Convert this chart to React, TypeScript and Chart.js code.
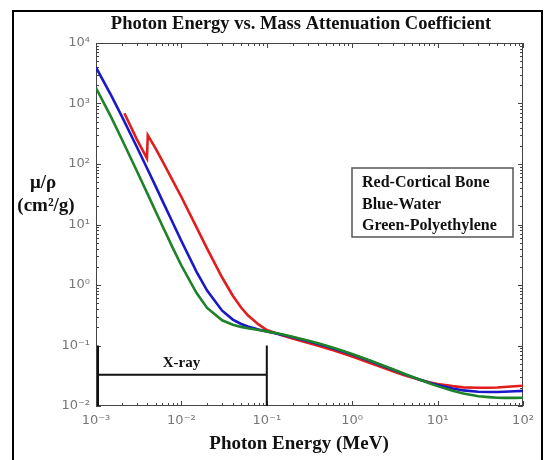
import React, { useEffect, useRef } from "react";
import { Chart, registerables } from "chart.js";
Chart.register(...registerables);

// ---------- data (MeV, cm^2/g) ----------
const waterEnergy = [1e-3, 1.5e-3, 2e-3, 3e-3, 4e-3, 5e-3, 6e-3, 8e-3, 0.01, 0.015, 0.02, 0.03, 0.04, 0.05, 0.06, 0.08, 0.1, 0.15, 0.2, 0.3, 0.4, 0.5, 0.6, 0.8, 1, 1.25, 1.5, 2, 3, 4, 5, 6, 8, 10, 15, 20, 30, 40, 50, 60, 80, 100];
const waterMu = [3950, 1376, 617, 193, 82.8, 42.6, 24.6, 10.4, 5.33, 1.67, 0.81, 0.376, 0.268, 0.227, 0.206, 0.184, 0.171, 0.1505, 0.137, 0.1186, 0.1061, 0.0969, 0.0896, 0.0787, 0.0707, 0.0632, 0.0575, 0.0494, 0.0397, 0.034, 0.0303, 0.0277, 0.0243, 0.0222, 0.0194, 0.0181, 0.0172, 0.017, 0.017, 0.0172, 0.0175, 0.0178];

const polyEnergy = [1e-3, 1.5e-3, 2e-3, 3e-3, 4e-3, 5e-3, 6e-3, 8e-3, 0.01, 0.015, 0.02, 0.03, 0.04, 0.05, 0.06, 0.08, 0.1, 0.15, 0.2, 0.3, 0.4, 0.5, 0.6, 0.8, 1, 1.25, 1.5, 2, 3, 4, 5, 6, 8, 10, 15, 20, 30, 40, 50, 60, 80, 100];
const polyMu = [1800, 600, 259, 77.4, 32.4, 16.4, 9.43, 4.0, 2.1, 0.744, 0.418, 0.261, 0.221, 0.203, 0.193, 0.181, 0.171, 0.153, 0.14, 0.121, 0.109, 0.0992, 0.0917, 0.0805, 0.0724, 0.0647, 0.0589, 0.0505, 0.0405, 0.0345, 0.0305, 0.0277, 0.0238, 0.0213, 0.0178, 0.0161, 0.0145, 0.014, 0.0137, 0.0136, 0.0136, 0.0137];

const boneEnergy = [2.15e-3, 3e-3, 3.95e-3, 4.04e-3, 5e-3, 6e-3, 8e-3, 0.01, 0.015, 0.02, 0.03, 0.04, 0.05, 0.06, 0.08, 0.1, 0.15, 0.2, 0.3, 0.4, 0.5, 0.6, 0.8, 1, 1.25, 1.5, 2, 3, 4, 5, 6, 8, 10, 15, 20, 30, 40, 50, 60, 80, 100];
const boneMu = [690, 258, 124, 300, 180, 112, 51.7, 28.5, 9.03, 4.0, 1.33, 0.666, 0.424, 0.315, 0.223, 0.18, 0.148, 0.131, 0.111, 0.0991, 0.0902, 0.0833, 0.0731, 0.0657, 0.0587, 0.0535, 0.0461, 0.0375, 0.0326, 0.0295, 0.0273, 0.0247, 0.0231, 0.0213, 0.0203, 0.02, 0.02, 0.0202, 0.0206, 0.0212, 0.0216];

const xTickValues = [1e-3, 1e-2, 1e-1, 1, 10, 100];
const xTickLabels = ["10⁻³", "10⁻²", "10⁻¹", "10⁰", "10¹", "10²"];
const yTickValues = [1e-2, 1e-1, 1, 10, 100, 1000, 10000];
const yTickLabels = ["10⁻²", "10⁻¹", "10⁰", "10¹", "10²", "10³", "10⁴"];

const chartTitle = "Photon Energy vs. Mass Attenuation Coefficient";
const xAxisTitle = "Photon Energy (MeV)";
const yAxisTitle = ["μ/ρ", "(cm²/g)"];
const legendLines = ["Red-Cortical Bone", "Blue-Water", "Green-Polyethylene"];
const xrayLabel = "X-ray";
const xrayEnergyRange = [1e-3, 1e-1];
const xrayMuRange = [1e-2, 1e-1];
const xrayBarMu = 0.033;

const SERIF = "'Liberation Serif', 'Times New Roman', serif";
const SANS = "'DejaVu Sans', 'Liberation Sans', sans-serif";

const toPoints = (xs: number[], ys: number[]) => xs.map((x, i) => ({ x, y: ys[i] }));

const labelFor = (vals: number[], labels: string[]) => (v: any) => {
  const i = vals.findIndex((t) => Math.abs(Math.log10(t) - Math.log10(Number(v))) < 1e-6);
  return i >= 0 ? labels[i] : "";
};

const decorPlugin = {
  id: "decor",
  beforeDatasetsDraw(chart: any) {
    const { ctx, chartArea: a } = chart;
    const xs = chart.scales.x;
    const ys = chart.scales.y;
    ctx.save();
    ctx.strokeStyle = "#444";
    ctx.lineWidth = 1;
    ctx.strokeRect(a.left + 0.5, a.top + 0.5, a.right - a.left - 1, a.bottom - a.top - 1);
    ctx.beginPath();
    for (let d = -3; d <= 2; d++) {
      for (let m = 1; m <= 9; m++) {
        const v = m * Math.pow(10, d);
        if (v < xs.min * 0.999 || v > xs.max * 1.001) continue;
        const px = Math.round(xs.getPixelForValue(v)) + 0.5;
        const len = m === 1 ? 5 : 3;
        ctx.moveTo(px, a.bottom);
        ctx.lineTo(px, a.bottom - len);
        ctx.moveTo(px, a.top);
        ctx.lineTo(px, a.top + len);
      }
    }
    for (let d = -2; d <= 4; d++) {
      for (let m = 1; m <= 9; m++) {
        const v = m * Math.pow(10, d);
        if (v < ys.min * 0.999 || v > ys.max * 1.001) continue;
        const py = Math.round(ys.getPixelForValue(v)) + 0.5;
        const len = m === 1 ? 5 : 3;
        ctx.moveTo(a.left, py);
        ctx.lineTo(a.left + len, py);
        ctx.moveTo(a.right, py);
        ctx.lineTo(a.right - len, py);
      }
    }
    ctx.stroke();
    ctx.restore();
  },
  afterDraw(chart: any) {
    const { ctx } = chart;
    const xs = chart.scales.x;
    const ys = chart.scales.y;
    ctx.save();
    // outer frame
    ctx.strokeStyle = "#000";
    ctx.lineWidth = 2;
    ctx.strokeRect(13, 11, 529, 470);

    // title
    ctx.fillStyle = "#111";
    ctx.textAlign = "center";
    ctx.textBaseline = "middle";
    ctx.font = `bold 18.5px ${SERIF}`;
    ctx.fillText(chartTitle, 301, 24);

    // x axis title
    ctx.font = `bold 19px ${SERIF}`;
    ctx.fillText(xAxisTitle, 299, 444);

    // y axis title
    ctx.font = `bold 19px ${SERIF}`;
    ctx.fillText(yAxisTitle[0], 43, 183);
    ctx.fillText(yAxisTitle[1], 46, 206);

    // X-ray annotation
    const x0 = xs.getPixelForValue(xrayEnergyRange[0]);
    const x1 = xs.getPixelForValue(xrayEnergyRange[1]);
    const yTop = ys.getPixelForValue(xrayMuRange[1]);
    const yBot = ys.getPixelForValue(xrayMuRange[0]);
    const yBar = ys.getPixelForValue(xrayBarMu);
    ctx.strokeStyle = "#111";
    ctx.lineWidth = 2;
    ctx.beginPath();
    ctx.moveTo(x0 + 2, yTop);
    ctx.lineTo(x0 + 2, yBot);
    ctx.moveTo(x1, yTop);
    ctx.lineTo(x1, yBot);
    ctx.moveTo(x0 + 2, yBar);
    ctx.lineTo(x1, yBar);
    ctx.stroke();
    ctx.font = `bold 15px ${SERIF}`;
    ctx.fillText(xrayLabel, (x0 + x1) / 2, yBar - 12);

    // legend box
    const bx = 352, by = 168, bw = 161, bh = 69;
    ctx.strokeStyle = "#555";
    ctx.lineWidth = 1.5;
    ctx.strokeRect(bx, by, bw, bh);
    ctx.textAlign = "left";
    ctx.font = `bold 16px ${SERIF}`;
    legendLines.forEach((t, i) => ctx.fillText(t, bx + 10, by + 15 + i * 21.5));
    ctx.restore();
  },
};

export default function App() {
  const ref = useRef<HTMLCanvasElement | null>(null);
  useEffect(() => {
    document.body.style.margin = "0";
    if (!ref.current) return;
    const line = (label: string, pts: any[], color: string) => ({
      label,
      data: pts,
      borderColor: color,
      backgroundColor: color,
      borderWidth: 2.6,
      pointRadius: 0,
      tension: 0,
      fill: false,
    });
    const chart = new Chart(ref.current, {
      type: "line",
      data: {
        datasets: [
          line("Polyethylene", toPoints(polyEnergy, polyMu), "rgb(30,130,40)"),
          line("Water", toPoints(waterEnergy, waterMu), "rgb(25,25,200)"),
          line("Cortical Bone", toPoints(boneEnergy, boneMu), "rgb(225,30,30)"),
        ],
      },
      options: {
        animation: false,
        responsive: false,
        devicePixelRatio: 1,
        parsing: false as any,
        layout: { padding: { left: 0, right: 22, top: 43, bottom: 0 } },
        plugins: { legend: { display: false }, tooltip: { enabled: false }, title: { display: false } },
        scales: {
          x: {
            type: "logarithmic",
            min: 1e-3,
            max: 100,
            afterFit: (s: any) => { s.height = 54; },
            afterBuildTicks: (s: any) => { s.ticks = xTickValues.map((v) => ({ value: v, major: true })); },
            ticks: {
              callback: labelFor(xTickValues, xTickLabels),
              font: { family: SANS, size: 13 },
              color: "#777",
              padding: 7,
              maxRotation: 0,
              minRotation: 0,
              autoSkip: false,
            },
            grid: { display: false, drawTicks: false, tickLength: 0 },
            border: { display: false },
          },
          y: {
            type: "logarithmic",
            min: 1e-2,
            max: 1e4,
            afterFit: (s: any) => { s.width = 96; },
            afterBuildTicks: (s: any) => { s.ticks = yTickValues.map((v) => ({ value: v, major: true })); },
            ticks: {
              callback: labelFor(yTickValues, yTickLabels),
              font: { family: SANS, size: 13 },
              color: "#777",
              padding: 6,
              autoSkip: false,
            },
            grid: { display: false, drawTicks: false, tickLength: 0 },
            border: { display: false },
          },
        },
      },
      plugins: [decorPlugin],
    });
    return () => chart.destroy();
  }, []);
  return (
    <div style={{ width: 545, height: 460, background: "#fff" }}>
      <canvas ref={ref} width={545} height={460} style={{ display: "block" }} />
    </div>
  );
}
